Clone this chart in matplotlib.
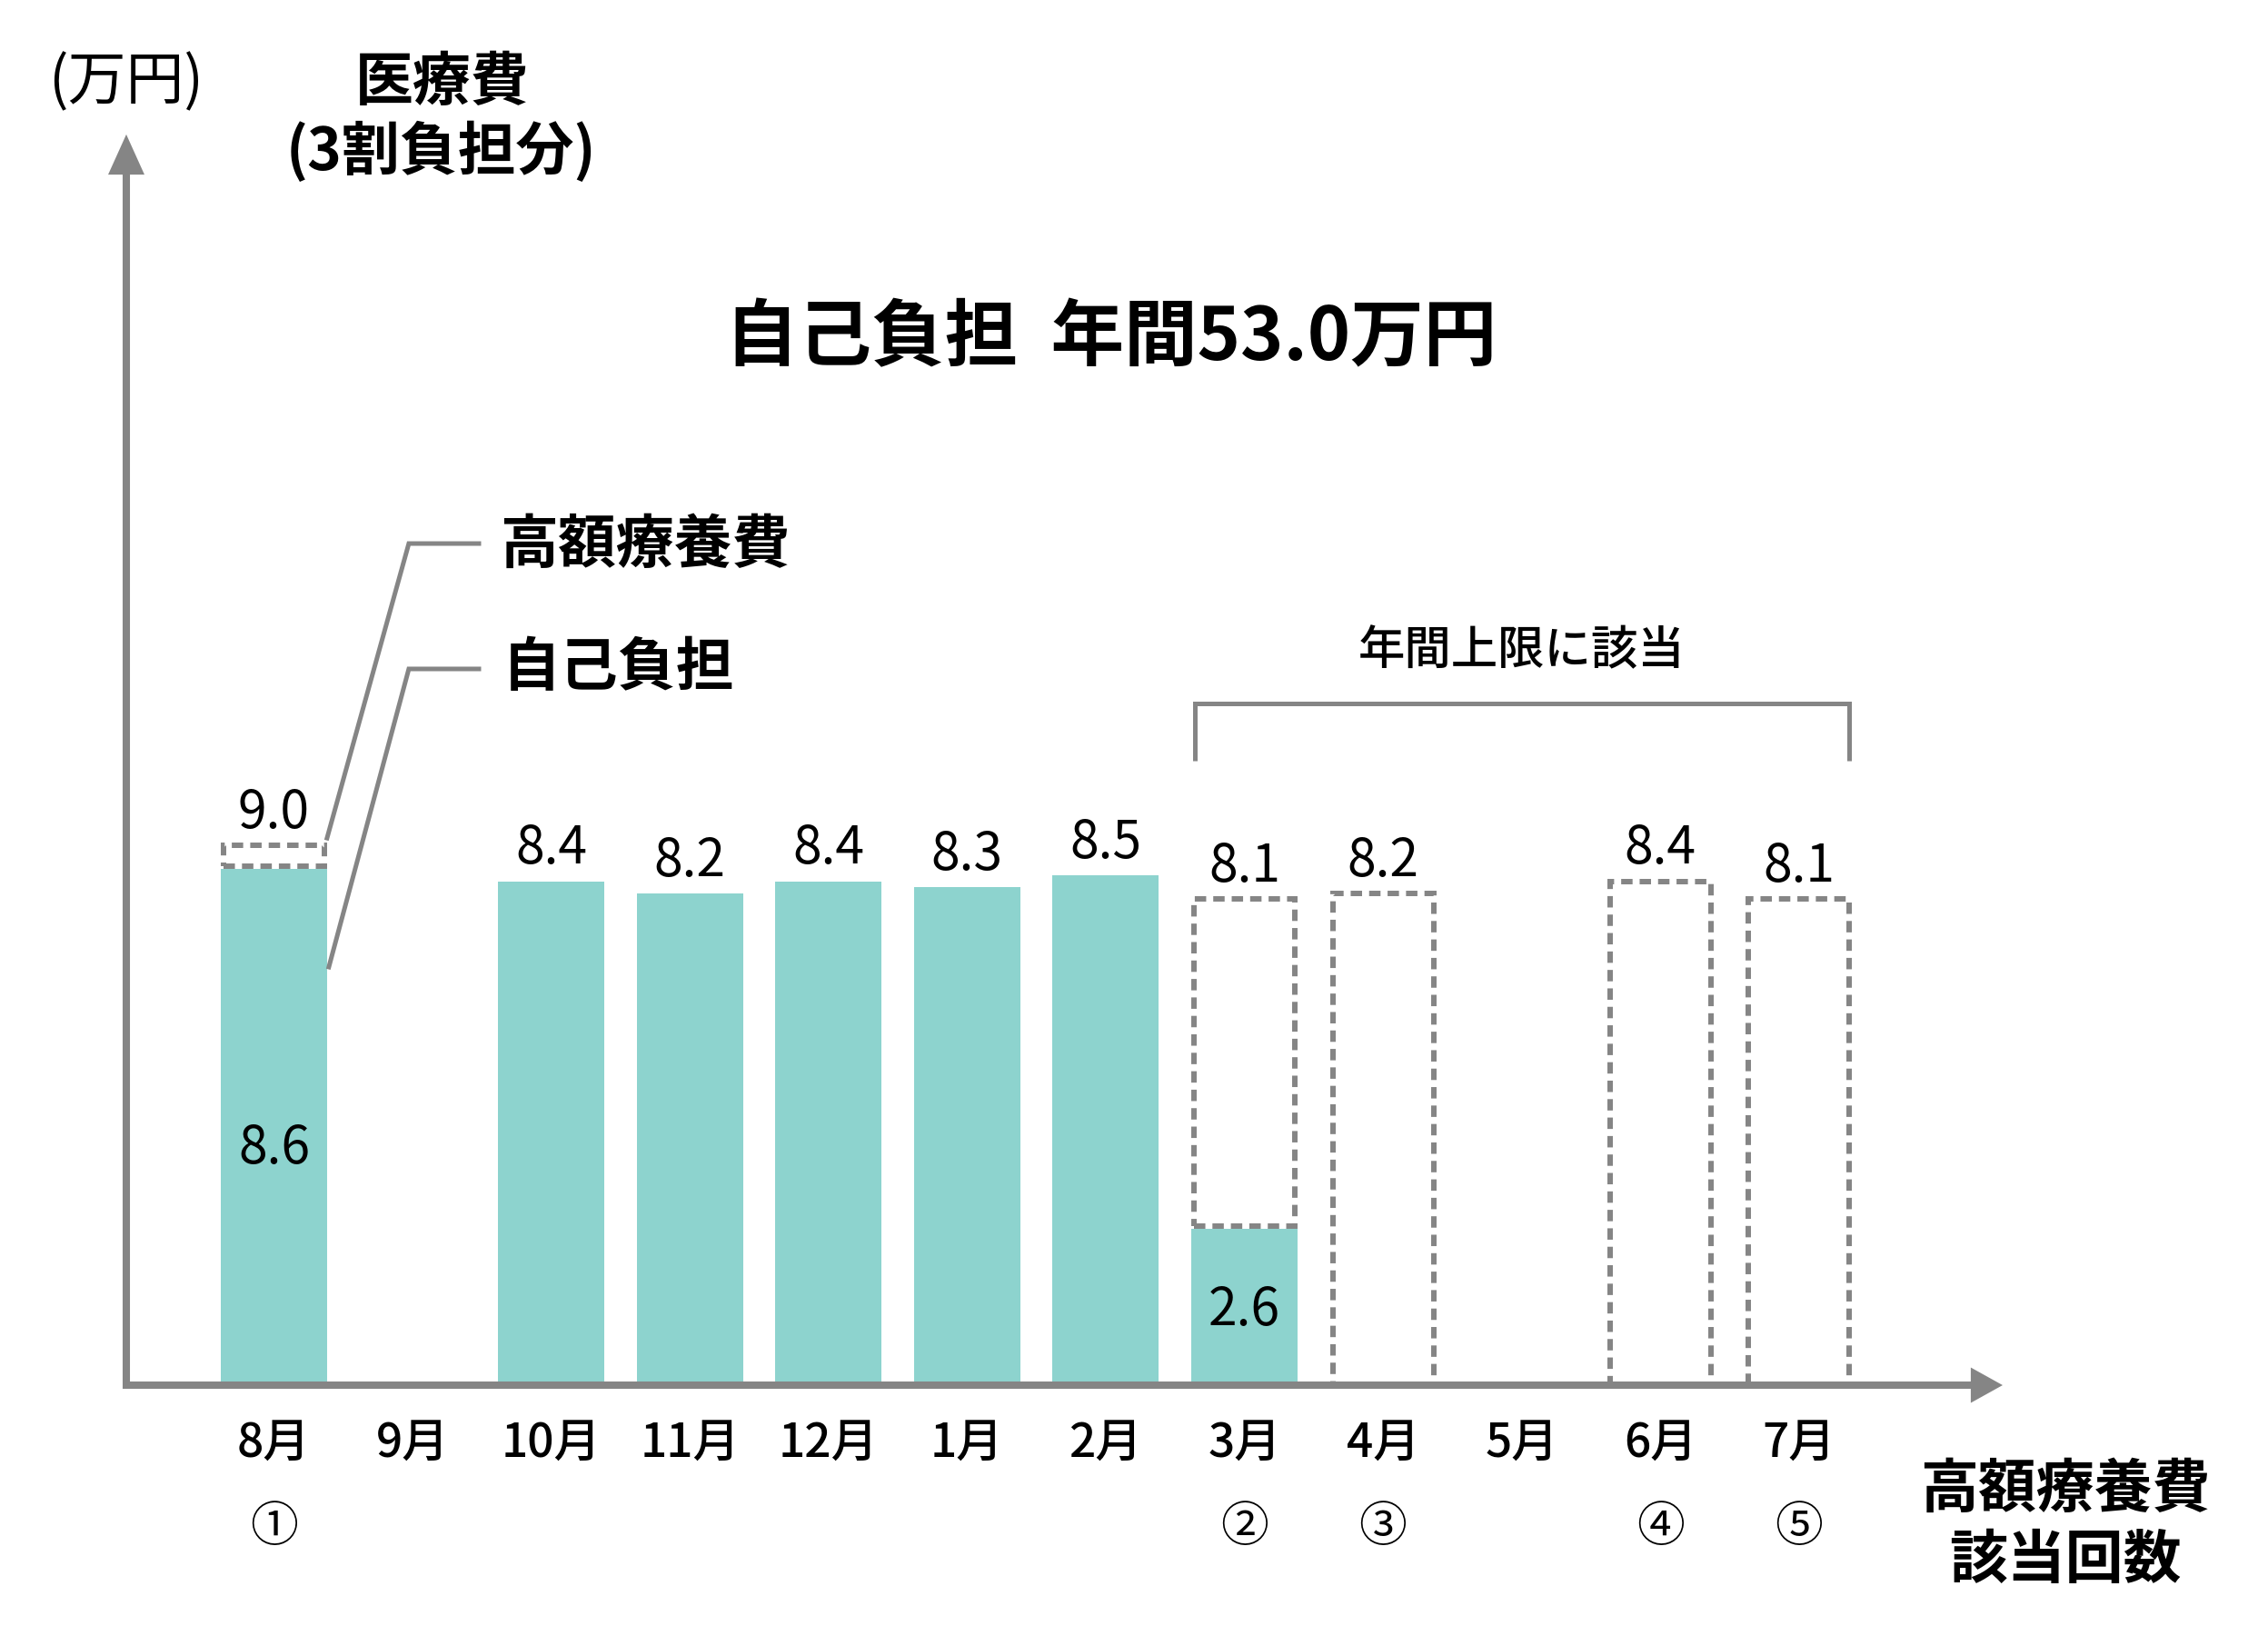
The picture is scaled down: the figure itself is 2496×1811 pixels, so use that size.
import matplotlib
matplotlib.use('Agg')
import matplotlib.pyplot as plt
from matplotlib.patches import Rectangle, Polygon

plt.rcParams['font.family'] = ['Noto Sans CJK JP', 'DejaVu Sans']

# ---- data ----
months = ['8月', '9月', '10月', '11月', '12月', '1月', '2月', '3月', '4月', '5月', '6月', '7月']
medical_cost = [9.0, 0.0, 8.4, 8.2, 8.4, 8.3, 8.5, 8.1, 8.2, 0.0, 8.4, 8.1]   # 医療費(3割負担分)
self_pay = [8.6, 0.0, 8.4, 8.2, 8.4, 8.3, 8.5, 2.6, 0.0, 0.0, 0.0, 0.0]       # 自己負担
count_marks = ['①', '', '', '', '', '', '', '②', '③', '', '④', '⑤']
cap_span = ['3月', '7月']

TEAL = '#8DD3CE'
GRAY = '#858585'

W, H, DPI = 2496, 1811, 100
XL = (-1.976, 14.384)
YL = (-4.348, 23.091)

fig = plt.figure(figsize=(W / DPI, H / DPI), dpi=DPI)
ax = fig.add_axes([0, 0, 1, 1])
ax.set_xlim(*XL)
ax.set_ylim(*YL)
ax.axis('off')

px_x = W / (XL[1] - XL[0])
px_y = H / (YL[1] - YL[0])
hx = 3 / px_x
hy = 3 / px_y

x = list(range(len(months)))
bar_w = 0.767

# self-pay bars
ax.bar(x, self_pay, width=bar_w, color=TEAL, zorder=2, linewidth=0)

# dashed boxes for medical cost beyond self pay
for xi, sp, mc in zip(x, self_pay, medical_cost):
    if mc > sp:
        bottom = sp + hy if sp > 0 else 0.0
        ax.add_patch(Rectangle((xi - bar_w / 2 + hx, bottom), bar_w - 2 * hx, mc - bottom,
                               fill=False, edgecolor=GRAY, linewidth=4.3,
                               linestyle=(0, (2.1, 1.3)), zorder=3))

# value labels
for xi, sp, mc in zip(x, self_pay, medical_cost):
    top = max(sp, mc)
    if top > 0:
        ax.text(xi, top + 0.29, f'{top:.1f}', ha='center', va='baseline', fontsize=41, zorder=5)
    if 0 < sp < mc:
        ax.text(xi, 0.45 * sp - 0.17, f'{sp:.1f}', ha='center', va='baseline', fontsize=41, zorder=5)

# month labels and count marks
for xi, m, c in zip(x, months, count_marks):
    ax.text(xi, -0.97, m, ha='center', va='center', fontsize=37, fontweight='medium')
    if c:
        ax.text(xi, -2.37, c, ha='center', va='center', fontsize=38)

# axes
y_ax = -1.065
ax.plot([y_ax, y_ax, 12.24], [20.18, 0, 0], color=GRAY, lw=5.8,
        solid_joinstyle='miter', solid_capstyle='butt', zorder=4)
ax.add_patch(Polygon([(y_ax - 0.131, 20.18), (y_ax + 0.131, 20.18), (y_ax, 20.85)],
                     closed=True, color=GRAY, lw=0, zorder=4))
ax.add_patch(Polygon([(12.24, 0.295), (12.24, -0.295), (12.47, 0)],
                     closed=True, color=GRAY, lw=0, zorder=4))

# axis captions
ax.text(y_ax, 21.71, '(万円)', ha='center', va='center', fontsize=46)
ax.text(1.216, 21.71, '医療費', ha='center', va='center', fontsize=46, fontweight='bold')
ax.text(1.203, 20.55, '(3割負担分)', ha='center', va='center', fontsize=46, fontweight='bold')
ax.text(12.92, -1.74, '高額療養費', ha='center', va='center', fontsize=46, fontweight='bold')
ax.text(12.92, -2.92, '該当回数', ha='center', va='center', fontsize=46, fontweight='bold')

# title
ax.text(6.04, 17.45, f'自己負担  年間{sum(self_pay):.1f}万円', ha='center', va='center',
        fontsize=58, fontweight='bold')

# legend-like labels with leader lines
ax.text(1.629, 14.0, '高額療養費', ha='left', va='center', fontsize=46, fontweight='bold')
ax.text(1.648, 11.95, '自己負担', ha='left', va='center', fontsize=46, fontweight='bold')
ax.plot([1.478, 0.973, 0.383], [14.03, 14.03, 9.12], color=GRAY, lw=3.6,
        solid_joinstyle='miter', zorder=4)
ax.plot([1.478, 0.973, 0.396], [11.94, 11.94, 6.97], color=GRAY, lw=3.6,
        solid_joinstyle='miter', zorder=4)

# bracket for annual cap
i0 = months.index(cap_span[0])
i1 = months.index(cap_span[1])
bl = i0 - 0.357
br = i1 + 0.362
ax.plot([bl, bl, br, br], [10.41, 11.36, 11.36, 10.41], color=GRAY, lw=3.6,
        solid_joinstyle='miter', solid_capstyle='butt', zorder=4)
ax.text((i0 + i1) / 2, 12.24, '年間上限に該当', ha='center', va='center', fontsize=37,
        fontweight='medium')

fig.savefig('out.png', dpi=DPI, facecolor='white')
